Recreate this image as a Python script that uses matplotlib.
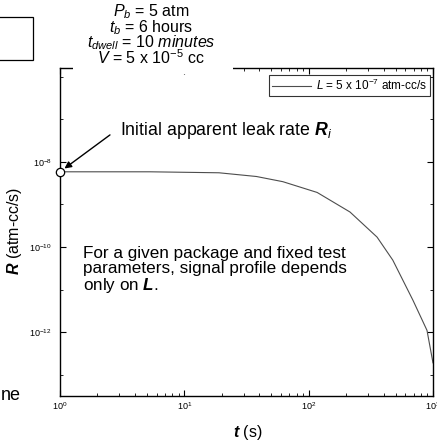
import matplotlib
matplotlib.use("Agg")
import matplotlib.pyplot as plt
from matplotlib.patches import Rectangle
from matplotlib.ticker import FixedLocator, LogLocator, NullFormatter

plt.rcParams['font.family'] = ['Liberation Sans', 'DejaVu Sans']
plt.rcParams['mathtext.fontset'] = 'custom'
plt.rcParams['mathtext.rm'] = 'Liberation Sans'
plt.rcParams['mathtext.it'] = 'Liberation Sans:italic'
plt.rcParams['mathtext.bf'] = 'Liberation Sans:bold'
plt.rcParams['mathtext.bfit'] = 'Liberation Sans:italic:bold'

# signal profile
t_s = [1, 1.5, 5.3, 19, 38, 62, 117, 215, 355, 475, 690, 895, 1000]
R_rate = [5.8e-9, 5.8e-9, 5.8e-9, 5.5e-9, 4.5e-9, 3.4e-9, 1.9e-9,
          6.6e-10, 1.7e-10, 4.9e-11, 5.6e-12, 1.1e-12, 1.9e-13]
y_major = [1e-12, 1e-10, 1e-8]
legend_label = r"$L$ = 5 x 10$^{-7}$ atm-cc/s"
params = [r"$P_b$ = 5 atm", r"$t_b$ = 6 hours",
          r"$t_{dwell}$ = 10 $\it{minutes}$", r"$V$ = 5 x 10$^{-5}$ cc"]
note = "For a given package and fixed test\nparameters, signal profile depends\nonly on $\\mathbfit{L}$."

fig = plt.figure(figsize=(4.37, 4.41), dpi=100)
ax = fig.add_axes([0.1373, 0.102, 0.8535, 0.7438])

ax.plot(t_s, R_rate, color='0.3', lw=0.8, label=legend_label)
ax.plot(t_s[0], R_rate[0], 'o', ms=6, mfc='white', mec='black', mew=0.9,
        clip_on=False, zorder=5)

ax.set_xscale('log')
ax.set_yscale('log')
ax.set_xlim(1, 1000)
ax.set_ylim(10 ** -13.5, 10 ** -5.8)
ax.yaxis.set_major_locator(FixedLocator(y_major))
ax.yaxis.set_minor_locator(LogLocator(base=10.0, subs=(1.0,), numticks=20))
ax.yaxis.set_minor_formatter(NullFormatter())
ax.tick_params(which='both', direction='in', top=True, right=True, labelsize=6.5)
ax.tick_params(which='major', length=4, width=0.8)
ax.tick_params(which='minor', length=2.5, width=0.6)
ax.tick_params(axis='y', pad=6)
ax.tick_params(axis='x', pad=3)
for s in ax.spines.values():
    s.set_linewidth(1.0)

ax.set_ylabel(r"$\mathbfit{R}$ (atm-cc/s)", fontsize=11.5)
ax.yaxis.set_label_coords(-0.097, 0.503)
ax.set_xlabel(r"$\mathbfit{t}$ (s)", fontsize=11.5)
ax.xaxis.set_label_coords(0.504, -0.082)

leg = ax.legend(loc='upper right', bbox_to_anchor=(0.992, 0.979), borderaxespad=0,
                fontsize=8.5, frameon=True, fancybox=False, edgecolor='black',
                handlelength=3.3, handletextpad=0.4, borderpad=0.25)
leg.get_frame().set_linewidth(0.8)

ax.annotate("", xy=(t_s[0], R_rate[0]), xytext=(0.134, 0.796),
            textcoords='axes fraction',
            arrowprops=dict(arrowstyle='-|>', color='black', lw=1.0,
                            shrinkA=0, shrinkB=4, mutation_scale=10))
ax.text(0.16, 0.81, r"Initial apparent leak rate $\mathbfit{R}_\mathit{i}$",
        transform=ax.transAxes, fontsize=12.8, va='center', ha='left')
ax.text(0.062, 0.458, note, transform=ax.transAxes, fontsize=12.3,
        va='top', ha='left', linespacing=1.0)

# parameters above the plot
ys = [12, 28, 43, 58]
for txt, y in zip(params, ys):
    fig.text(151 / 437, 1 - y / 441, txt, fontsize=11.5, ha='center', va='center')
fig.patches.append(Rectangle((73 / 437, 1 - 74 / 441), 160 / 437, 10 / 441,
                             transform=fig.transFigure, facecolor='white',
                             edgecolor='none', zorder=3))

# cropped neighbouring panel pieces
fig.patches.append(Rectangle((-0.05, 1 - 60 / 441), 33 / 437 + 0.05, 43 / 441,
                             transform=fig.transFigure, facecolor='none',
                             edgecolor='black', lw=0.9))
fig.text(1 / 437, 1 - 395 / 441, "ne", fontsize=13, ha='left', va='center')

fig.savefig("out.png", dpi=100)
